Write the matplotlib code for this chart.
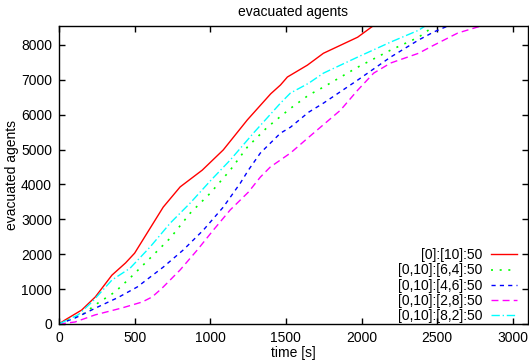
import numpy as np
import matplotlib
matplotlib.use("Agg")
import matplotlib.pyplot as plt

plt.rcParams["font.family"] = ["Liberation Sans", "DejaVu Sans"]

t_red = [0, 40, 150, 240, 350, 440, 500, 583, 689, 801, 947, 1086, 1245, 1400, 1464, 1510, 1642, 1748, 1974, 2075]
y_red = [0, 115, 400, 775, 1400, 1750, 2030, 2610, 3350, 3930, 4410, 4990, 5850, 6600, 6850, 7080, 7420, 7760, 8220, 8540]

t_green = [0, 172, 238, 371, 470, 603, 735, 868, 1000, 1132, 1245, 1377, 1530, 1650, 1748, 1974, 2192, 2377, 2480]
y_green = [0, 315, 545, 920, 1320, 1890, 2460, 3180, 3750, 4410, 5070, 5640, 6180, 6560, 6790, 7360, 7850, 8220, 8540]

t_blue = [0, 106, 258, 391, 517, 689, 821, 954, 1086, 1199, 1252, 1331, 1464, 1530, 1650, 1748, 1974, 2192, 2377, 2477, 2570]
y_blue = [0, 170, 490, 760, 1060, 1630, 2120, 2690, 3350, 4040, 4410, 4900, 5470, 5640, 6070, 6330, 6990, 7650, 8140, 8370, 8540]

t_magenta = [0, 106, 238, 417, 550, 616, 682, 801, 914, 1020, 1132, 1252, 1331, 1397, 1530, 1650, 1861, 1974, 2080, 2192, 2377, 2477, 2636, 2788]
y_magenta = [0, 57, 260, 460, 630, 775, 1030, 1550, 2120, 2690, 3270, 3780, 4210, 4500, 4900, 5350, 6130, 6700, 7190, 7480, 7760, 7990, 8340, 8540]

t_cyan = [0, 126, 218, 350, 470, 603, 735, 868, 1000, 1132, 1285, 1464, 1530, 1650, 1748, 1974, 2192, 2377, 2420]
y_cyan = [0, 260, 630, 1260, 1600, 2210, 2890, 3470, 4100, 4700, 5470, 6330, 6620, 6900, 7190, 7650, 8080, 8420, 8540]

labels = ["[0]:[10]:50", "[0,10]:[6,4]:50", "[0,10]:[4,6]:50", "[0,10]:[2,8]:50", "[0,10]:[8,2]:50"]

fig = plt.figure(figsize=(5.29, 3.62), dpi=100)
ax = fig.add_axes([0.1115, 0.105, 0.8865, 0.823])

ax.plot(t_red, y_red, color="#ff0000", lw=1, label=labels[0])
ax.plot(t_green, y_green, color="#00ff00", lw=1.2, ls=(0, (1.2, 4)), label=labels[1])
ax.plot(t_blue, y_blue, color="#0000ff", lw=1, ls=(0, (3, 3)), label=labels[2])
ax.plot(t_magenta, y_magenta, color="#ff00ff", lw=1, ls=(0, (5, 3)), label=labels[3])
ax.plot(t_cyan, y_cyan, color="#00ffff", lw=1, ls=(0, (6, 2, 1, 2)), label=labels[4])

ax.set_xlim(0, 3100)
ax.set_ylim(0, 8540)
ax.set_xticks([0, 500, 1000, 1500, 2000, 2500, 3000])
ax.set_yticks([0, 1000, 2000, 3000, 4000, 5000, 6000, 7000, 8000])
ax.tick_params(direction="in", top=True, right=True, length=4, width=1,
               labelsize=10, pad=5)
for s in ax.spines.values():
    s.set_linewidth(1)

ax.set_title("evacuated agents", fontsize=10, pad=7)
ax.set_xlabel("time [s]", fontsize=10, labelpad=1)
ax.set_ylabel("evacuated agents", fontsize=10)
ax.yaxis.set_label_coords(-0.086, 0.5)

ax.legend(loc="lower right", bbox_to_anchor=(0.9765, 0.004), frameon=False,
          markerfirst=False, fontsize=10, handlelength=1.9, handletextpad=0.6,
          labelspacing=0.08, borderaxespad=0, borderpad=0)

fig.savefig("out.png", dpi=100)
